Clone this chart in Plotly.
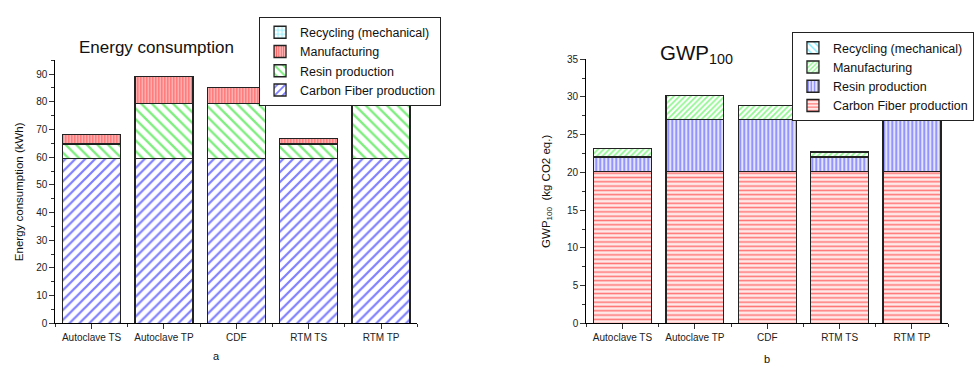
import plotly.graph_objects as go

categories = ["Autoclave TS", "Autoclave TP", "CDF", "RTM TS", "RTM TP"]

# Panel a: Energy consumption (kWh)
energy_carbon_fiber = [59.5, 59.5, 59.5, 59.5, 59.5]
energy_resin = [5.3, 19.8, 19.8, 5.3, 19.8]
energy_manufacturing = [3.4, 9.8, 5.8, 2.0, 5.5]
energy_recycling = [0, 0, 0, 0, 0]

# Panel b: GWP100 (kg CO2 eq.)
gwp_carbon_fiber = [20.15, 20.15, 20.15, 20.15, 20.15]
gwp_resin = [1.9, 6.85, 6.85, 1.9, 6.85]
gwp_manufacturing = [1.15, 3.2, 1.9, 0.65, 1.8]
gwp_recycling = [0, 0, 0, 0, 0]

series_names = ["Carbon Fiber production", "Resin production", "Manufacturing", "Recycling (mechanical)"]

xpos = list(range(len(categories)))
FONT = "Liberation Sans, Arial, sans-serif"

fig = go.Figure()

left_specs = [
    (energy_carbon_fiber, "#0000ff", "white", "/", 7, 0.32),
    (energy_resin, "#00dd00", "white", "\\", 7.5, 0.32),
    (energy_manufacturing, "#ff0000", "#ffc0c0", "|", 3, 0.45),
    (energy_recycling, "#00d8ff", "white", "+", 5, 0.35),
]
for name, (vals, col, bg, shp, sz, sol) in zip(series_names, left_specs):
    fig.add_trace(go.Bar(
        x=xpos, y=vals, name=name, width=0.8,
        marker=dict(color="white", line=dict(color="#222", width=1.3),
                    pattern=dict(shape=shp, fgcolor=col, bgcolor=bg, size=sz, solidity=sol)),
        xaxis="x", yaxis="y", legend="legend",
    ))

right_specs = [
    (gwp_carbon_fiber, "#ff0000", "#ffe8e8", "-", 4.3, 0.35),
    (gwp_resin, "#0000ff", "#e4e4ff", "|", 4, 0.35),
    (gwp_manufacturing, "#22ee22", "white", "/", 4, 0.45),
    (gwp_recycling, "#00d8ff", "white", "\\", 6, 0.3),
]
for name, (vals, col, bg, shp, sz, sol) in zip(series_names, right_specs):
    fig.add_trace(go.Bar(
        x=xpos, y=vals, name=name, width=0.8,
        marker=dict(color="white", line=dict(color="#222", width=1.3),
                    pattern=dict(shape=shp, fgcolor=col, bgcolor=bg, size=sz, solidity=sol)),
        xaxis="x2", yaxis="y2", legend="legend2",
    ))

W, H = 974, 371
def px_x(p):
    return p / W
def px_y(p):
    return 1 - p / H

xcommon = dict(
    range=[-0.5, 4.5], tickmode="array", tickvals=xpos, ticktext=categories,
    showline=True, linecolor="black", linewidth=1.2, ticks="outside", ticklen=5,
    tickcolor="#333", showgrid=False, zeroline=False,
    tickfont=dict(family=FONT, size=10, color="#222"),
    minor=dict(tickvals=[-0.5, 0.5, 1.5, 2.5, 3.5, 4.5], ticklen=3, ticks="outside", tickcolor="#333"),
)
ycommon = dict(
    showline=True, linecolor="black", linewidth=1.2, ticks="outside", ticklen=5,
    tickcolor="#333", showgrid=False, zeroline=False,
    tickfont=dict(family=FONT, size=10, color="#222"),
)

fig.update_layout(
    width=W, height=H,
    margin=dict(l=0, r=0, t=0, b=0),
    paper_bgcolor="white", plot_bgcolor="white",
    barmode="stack", bargap=0.2,
    showlegend=True,
    font=dict(family=FONT, color="#111"),
    xaxis=dict(domain=[px_x(56), px_x(422)], anchor="y", **xcommon),
    yaxis=dict(domain=[px_y(328), px_y(56)], anchor="x", range=[0, 95], dtick=10,
               minor=dict(dtick=5, ticklen=3, ticks="outside", tickcolor="#333"),
               title=dict(text="Energy consumption (kWh)", font=dict(family=FONT, size=11.5), standoff=10),
               **ycommon),
    xaxis2=dict(domain=[px_x(593), px_x(959)], anchor="y2", **xcommon),
    yaxis2=dict(domain=[px_y(328), px_y(55)], anchor="x2", range=[0, 35], dtick=5,
                minor=dict(dtick=2.5, ticklen=3, ticks="outside", tickcolor="#333"),
                title=dict(text="GWP<sub>100</sub>  (kg CO2 eq.)", font=dict(family=FONT, size=11.5), standoff=14),
                **ycommon),
    legend=dict(x=px_x(262), y=px_y(11), xanchor="left", yanchor="top",
                traceorder="reversed", bgcolor="white", bordercolor="#222", borderwidth=1,
                font=dict(family=FONT, size=12.5, color="#111"), tracegroupgap=0,
                itemwidth=30),
    legend2=dict(x=px_x(801), y=px_y(27), xanchor="left", yanchor="top",
                 traceorder="reversed", bgcolor="white", bordercolor="#222", borderwidth=1,
                 font=dict(family=FONT, size=12.5, color="#111"), tracegroupgap=0,
                 itemwidth=30),
    annotations=[
        dict(text="Energy consumption", x=px_x(158), y=px_y(43), xref="paper", yref="paper",
             showarrow=False, font=dict(family=FONT, size=17, color="#111"), xanchor="center", yanchor="middle"),
        dict(text="GWP<sub>100</sub>", x=px_x(704), y=px_y(50), xref="paper", yref="paper",
             showarrow=False, font=dict(family=FONT, size=20.5, color="#111"), xanchor="center", yanchor="middle"),
        dict(text="a", x=px_x(219), y=px_y(362), xref="paper", yref="paper",
             showarrow=False, font=dict(family=FONT, size=11, color="#111"), xanchor="center", yanchor="middle"),
        dict(text="b", x=px_x(776), y=px_y(365), xref="paper", yref="paper",
             showarrow=False, font=dict(family=FONT, size=11, color="#111"), xanchor="center", yanchor="middle"),
    ],
)

fig.write_html("out.html")
